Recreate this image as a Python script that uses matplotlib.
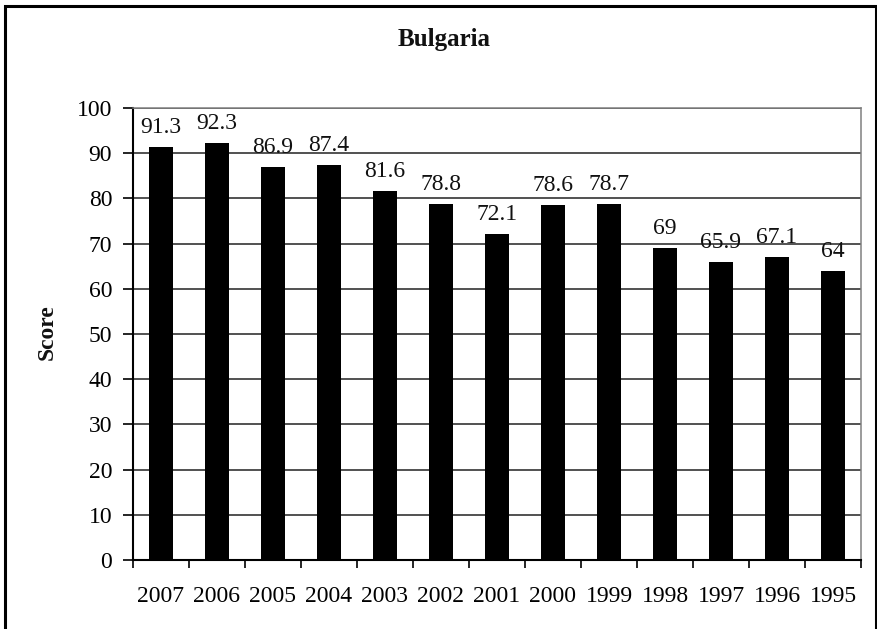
import matplotlib
matplotlib.use("Agg")
import matplotlib.pyplot as plt
from matplotlib.patches import Rectangle

# Data
years = ["2007", "2006", "2005", "2004", "2003", "2002", "2001",
         "2000", "1999", "1998", "1997", "1996", "1995"]
scores = [91.3, 92.3, 86.9, 87.4, 81.6, 78.8, 72.1,
          78.6, 78.7, 69, 65.9, 67.1, 64]
score_labels = ["91.3", "92.3", "86.9", "87.4", "81.6", "78.8", "72.1",
                "78.6", "78.7", "69", "65.9", "67.1", "64"]
y_ticks = [0, 10, 20, 30, 40, 50, 60, 70, 80, 90, 100]

plt.rcParams["font.family"] = ["Liberation Serif", "DejaVu Serif"]

W, H = 878, 629
fig = plt.figure(figsize=(W / 100, H / 100), dpi=100)
fig.patch.set_facecolor("white")

ax = fig.add_axes([133 / W, 1 - 560 / H, (861 - 133) / W, (560 - 108) / H])

x = list(range(len(years)))
ax.bar(x, scores, width=0.42, color="black", zorder=3)

for xi, v, lab in zip(x, scores, score_labels):
    ax.annotate(lab, (xi, v), xytext=(0, 6.5), textcoords="offset points",
                ha="center", va="bottom", fontsize=17, color="#111111")

ax.set_xlim(-0.5, len(years) - 0.5)
ax.set_ylim(0, 100)
ax.set_yticks(y_ticks)
ax.set_yticklabels([str(t) for t in y_ticks], fontsize=17)

# category labels centred under bars, tick marks between categories
ax.set_xticks(x)
ax.set_xticklabels(years, fontsize=17)
ax.tick_params(axis="x", which="major", length=0, pad=19)
ax.set_xticks([i - 0.5 for i in range(len(years) + 1)], minor=True)
ax.tick_params(axis="x", which="minor", length=6, width=1.2, direction="out",
               color="black")
ax.tick_params(axis="y", length=7, width=1.2, direction="out", pad=8,
               color="black")

ax.yaxis.grid(True, color="#222222", linewidth=1.1, zorder=0)
ax.set_axisbelow(True)

for side in ("left", "bottom"):
    ax.spines[side].set_color("black")
    ax.spines[side].set_linewidth(1.5)
for side in ("top", "right"):
    ax.spines[side].set_color("#808080")
    ax.spines[side].set_linewidth(1.1)

fig.text(444 / W, 1 - 46 / H, "Bulgaria", ha="center", va="baseline",
         fontsize=18, fontweight="bold", color="#111111")
fig.text(47 / W, 1 - 332 / H, "Score", ha="center", va="center",
         rotation=90, fontsize=17, fontweight="bold", color="#111111")

# outer frame around the chart
fig.patches.append(Rectangle((5 / W, -0.05), (876.5 - 5) / W, 1.05 - 5.5 / H,
                             transform=fig.transFigure, fill=False,
                             edgecolor="black", linewidth=2.2))

fig.savefig("out.png", dpi=100)
